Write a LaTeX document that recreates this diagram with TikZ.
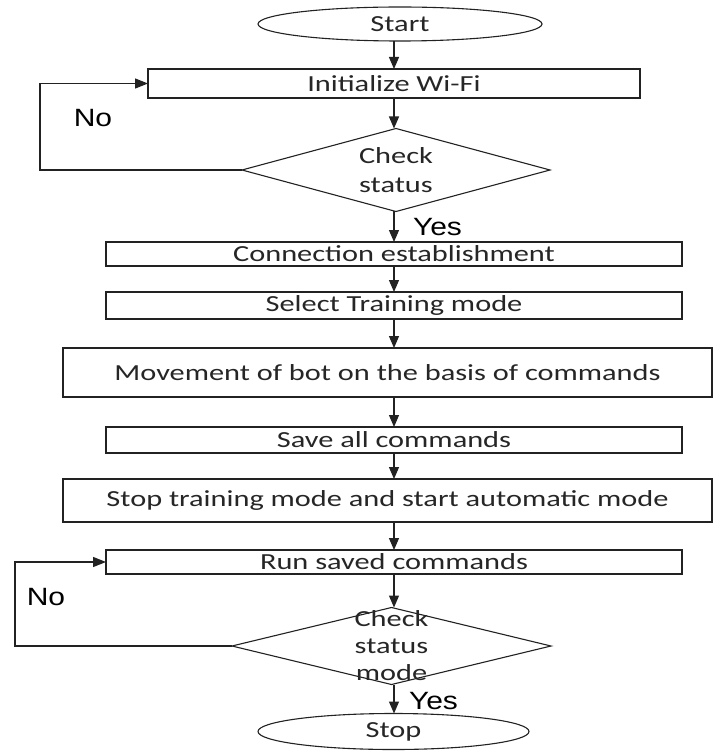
\documentclass[tikz,border=0pt]{standalone}
\usepackage{fontspec}
\setmainfont{Carlito}[FakeStretch=1.32]
\newfontfamily\yesnofont{Liberation Sans}[FakeStretch=1.2]
\usetikzlibrary{shapes.geometric,arrows.meta}
\definecolor{ink}{HTML}{222222}
\definecolor{txt}{HTML}{262626}
\begin{document}
\begin{tikzpicture}[x=1pt,y=-1pt,
  every node/.style={inner sep=0pt,outer sep=0pt,text=txt,font=\fontsize{23pt}{27pt}\selectfont},
  procbox/.style={draw=ink,line width=1.3pt,rectangle,minimum width=#1},
  termnode/.style={draw=ink,line width=1.1pt,ellipse},
  decnode/.style={draw=ink,line width=1.1pt,diamond},
  arr/.style={draw=ink,line width=1.2pt,-{Triangle[length=12pt,width=10pt]}},
  loopline/.style={draw=ink,line width=1.2pt,-{Triangle[length=13pt,width=10pt]}},
  yesno/.style={font=\yesnofont\fontsize{25pt}{30pt}\selectfont,text=black}]
\useasboundingbox[fill=white] (0,0) rectangle (714,751);
\coordinate (col) at (394,0);
\coordinate (lx1) at (40,0);
\coordinate (lx2) at (15,0);

\node[termnode,minimum width=284pt,minimum height=34pt] (start) at (400,24) {Start};
\node[procbox=492pt,minimum height=29pt] (init) at (394,83.5) {Initialize Wi-Fi};
\node[decnode,minimum width=308pt,minimum height=83pt,
  label={[align=center,font=\fontsize{23pt}{29pt}\selectfont,text=txt]center:Check\\status}] (chk1) at (396,170) {};
\node[procbox=576pt,minimum height=24pt] (conn) at (394,254) {Connection establishment};
\node[procbox=576pt,minimum height=27pt] (sel) at (394,305.5) {Select Training mode};
\node[procbox=649pt,minimum height=49pt] (move) at (387.5,372.5) {Movement of bot on the basis of commands};
\node[procbox=576pt,minimum height=26pt] (save) at (394,440) {Save all commands};
\node[procbox=649pt,minimum height=43pt] (stoptr) at (387.5,500.5) {Stop training mode and start automatic mode};
\node[procbox=576pt,minimum height=24pt] (run) at (394,562) {Run saved commands};
\node[decnode,minimum width=319pt,minimum height=77pt,
  label={[align=center,font=\fontsize{23pt}{27pt}\selectfont,text=txt]center:Check\\status\\mode}] (chk2) at (391.5,646) {};
\node[termnode,minimum width=271pt,minimum height=36pt] (stop) at (393.5,731.5) {Stop};

\draw[arr] (start.south -| col) -- (init.north -| col);
\draw[arr] (init.south -| col) -- (chk1.north -| col);
\draw[arr] (chk1.south -| col) -- (conn.north -| col);
\draw[arr] (conn.south -| col) -- (sel.north -| col);
\draw[arr] (sel.south -| col) -- (move.north -| col);
\draw[arr] (move.south -| col) -- (save.north -| col);
\draw[arr] (save.south -| col) -- (stoptr.north -| col);
\draw[arr] (stoptr.south -| col) -- (run.north -| col);
\draw[arr] (run.south -| col) -- (chk2.north -| col);
\draw[arr] (chk2.south -| col) -- (stop.north -| col);

\draw[loopline] (chk1.west) -- (chk1.west -| lx1) -- (init.west -| lx1) -- (init.west);
\draw[loopline] (chk2.west) -- (chk2.west -| lx2) -- (run.west -| lx2) -- (run.west);

\node[yesno] (no1) at (93,118) {No};
\node[yesno,anchor=west] (yes1) at (413,227) {Yes};
\node[yesno] (no2) at (46,597) {No};
\node[yesno,anchor=west] (yes2) at (409,701) {Yes};
\end{tikzpicture}
\end{document}
